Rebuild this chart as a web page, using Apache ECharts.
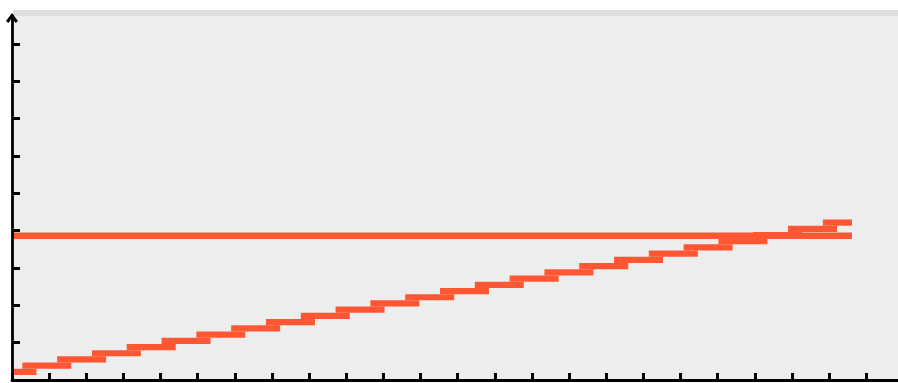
<!DOCTYPE html>
<html>
<head>
<meta charset="utf-8">
<script src="https://cdn.jsdelivr.net/npm/echarts@6/dist/echarts.min.js"></script>
<style>
  html, body { margin: 0; padding: 0; background: #ffffff; }
  #chart { width: 898px; height: 383px; }
</style>
</head>
<body>
<div id="chart"></div>
<script>
// ---- data ----
const stepX = [0, 15, 30, 45, 60, 75, 90, 105, 120, 135, 150, 165, 180, 195, 210, 225, 240, 255, 270, 285, 300, 315, 330, 345, 360];
const stepY = [1.3, 2.3, 3.3, 4.3, 5.3, 6.3, 7.3, 8.3, 9.3, 10.3, 11.3, 12.3, 13.3, 14.3, 15.3, 16.3, 17.3, 18.3, 19.3, 20.3, 21.3, 22.3, 23.3, 24.3, 25.3];
const levelX = [0, 362];
const levelY = [23.2, 23.2];
const xTicks = [0, 16, 32, 48, 64, 80, 96, 112, 128, 144, 160, 176, 192, 208, 224, 240, 256, 272, 288, 304, 320, 336, 352, 368];
const yTicks = [0, 6, 12, 18, 24, 30, 36, 42, 48, 54];
const xMax = 381.7;
const dataXMax = 362;
const yMax = 58.5;

// ---- styles ----
const ORANGE = '#ff5733';
const AXIS = '#000000';
const ARROW = 'path://M0,8 L6,0 L12,8 L9.6,9.8 L6,4.6 L2.4,9.8 Z';

const chart = echarts.init(document.getElementById('chart'), null, { renderer: 'canvas' });

const option = {
  animation: false,
  graphic: {
    elements: [
      { type: 'rect', left: 13, top: 10, shape: { width: 885, height: 6 }, style: { fill: '#dedede' }, silent: true }
    ]
  },
  grid: [
    { left: 12, right: 0, top: 16, bottom: 3, show: true, backgroundColor: '#ededed', borderWidth: 0 },
    { left: 12, right: 46, top: 16, bottom: 3 }
  ],
  xAxis: [
    {
      gridIndex: 0, type: 'value', min: 0, max: xMax, z: 10,
      axisLine: { show: true, onZero: false, lineStyle: { color: AXIS, width: 2.8 } },
      axisTick: { show: true, inside: true, length: 7, lineStyle: { color: AXIS, width: 3 }, customValues: xTicks },
      axisLabel: { show: false },
      splitLine: { show: false }
    },
    { gridIndex: 1, type: 'value', min: 0, max: dataXMax, show: false }
  ],
  yAxis: [
    {
      gridIndex: 0, type: 'value', min: 0, max: yMax, z: 10,
      axisLine: {
        show: true, onZero: false,
        symbol: ['none', ARROW], symbolSize: [12, 11], symbolOffset: [0, -2],
        lineStyle: { color: AXIS, width: 2.8 }
      },
      axisTick: { show: true, inside: true, length: 8, lineStyle: { color: AXIS, width: 3 }, customValues: yTicks },
      axisLabel: { show: false },
      splitLine: { show: false }
    },
    { gridIndex: 1, type: 'value', min: 0, max: yMax, show: false }
  ],
  series: [
    {
      type: 'line',
      xAxisIndex: 1, yAxisIndex: 1,
      data: levelX.map((x, i) => [x, levelY[i]]),
      symbol: 'none',
      lineStyle: { color: ORANGE, width: 6.5, cap: 'butt' },
      z: 2
    },
    {
      type: 'custom',
      xAxisIndex: 1, yAxisIndex: 1,
      data: stepX.map((x, i) => [x, stepY[i]]),
      renderItem: function (params, api) {
        const c = api.coord([api.value(0), api.value(1)]);
        const w = 49;
        const h = api.size([0, 1])[1];
        const cs = params.coordSys;
        const rect = echarts.graphic.clipRectByRect(
          { x: c[0] - w / 2, y: c[1] - h / 2, width: w, height: h },
          { x: cs.x, y: cs.y, width: cs.width, height: cs.height }
        );
        if (!rect) return null;
        return { type: 'rect', shape: rect, style: { fill: ORANGE } };
      },
      z: 3
    }
  ]
};

chart.setOption(option);
</script>
</body>
</html>
